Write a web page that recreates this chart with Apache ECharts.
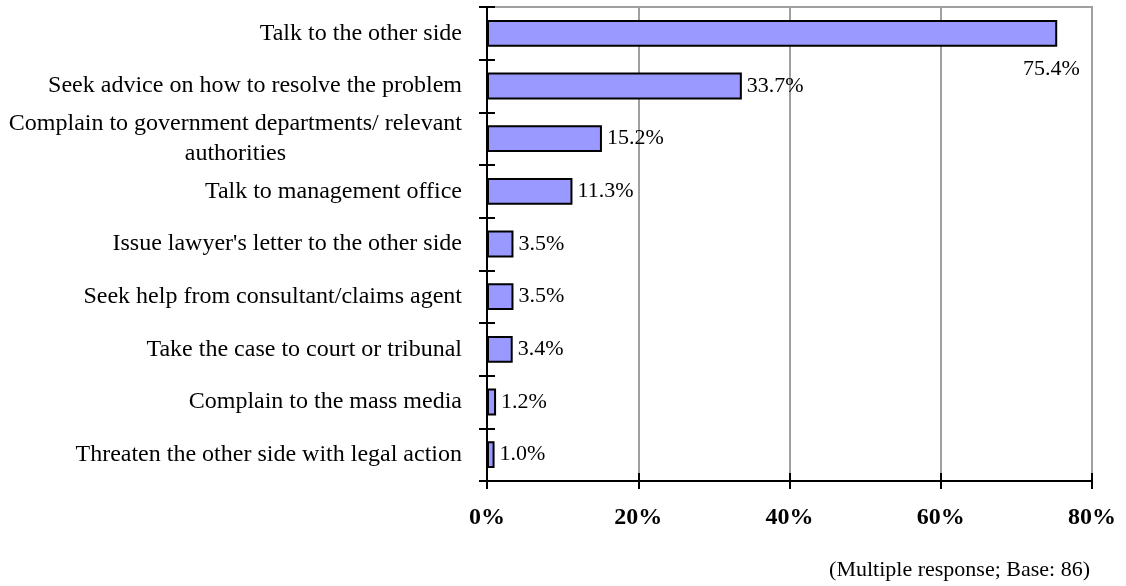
<!DOCTYPE html>
<html><head><meta charset="utf-8">
<script src="https://cdn.jsdelivr.net/npm/echarts@6/dist/echarts.min.js"></script>
<style>html,body{margin:0;padding:0;background:#fff}#c{width:1126px;height:586px}</style>
</head><body><div id="c"></div>
<script>
const categories = [
  "Talk to the other side",
  "Seek advice on how to resolve the problem",
  "Complain to government departments/ relevant\nauthorities",
  "Talk to management office",
  "Issue lawyer's letter to the other side",
  "Seek help from consultant/claims agent",
  "Take the case to court or tribunal",
  "Complain to the mass media",
  "Threaten the other side with legal action"
];
const values = [75.4, 33.7, 15.2, 11.3, 3.5, 3.5, 3.4, 1.2, 1.0];
const xTicks = [0, 20, 40, 60, 80];
const footnote = "(Multiple response; Base: 86)";

const FONT = "'Liberation Serif', 'Times New Roman', serif";
const chart = echarts.init(document.getElementById('c'));
const grid = {left: 487, right: 34, top: 7, bottom: 105, show: true, borderColor: '#a0a0a0', borderWidth: 2};
const labelFmt = function (v) {
  if (v.indexOf('\n') >= 0) {
    return v.split('\n').map(s => '{c|' + s + '}').join('\n');
  }
  return v;
};
const yBase = {
  type: 'category', data: categories, inverse: true, position: 'left',
  axisLine: {show: true, lineStyle: {color: '#000', width: 2}},
  axisTick: {show: true, length: 8, lineStyle: {color: '#000', width: 2}},
  splitLine: {show: false}
};
chart.setOption({
  animation: false,
  textStyle: {fontFamily: FONT},
  grid: grid,
  title: {text: footnote, right: 31, top: 554, textStyle: {fontFamily: FONT, fontSize: 22, fontWeight: 'normal', color: '#000'}},
  xAxis: [
    {type: 'value', min: 0, max: 80, interval: 20,
     axisLine: {show: true, lineStyle: {color: '#000', width: 2}},
     axisTick: {show: true, length: 8, lineStyle: {color: '#000', width: 2}},
     splitLine: {show: true, lineStyle: {color: '#a0a0a0', width: 2}},
     axisLabel: {margin: 25, fontFamily: FONT, fontSize: 24, fontWeight: 'bold', color: '#000',
       formatter: v => xTicks.indexOf(v) >= 0 ? v + '%' : ''}},
    {type: 'value', min: 0, max: 80, interval: 20, position: 'bottom',
     axisLine: {show: false},
     axisTick: {show: true, inside: true, length: 8, lineStyle: {color: '#000', width: 2}},
     splitLine: {show: false}, axisLabel: {show: false}}
  ],
  yAxis: [
    Object.assign({}, yBase, {
      axisLabel: {margin: 25, fontFamily: FONT, fontSize: 24, color: '#000', lineHeight: 30,
        formatter: labelFmt,
        rich: {c: {align: 'center', fontFamily: FONT, fontSize: 24, color: '#000', lineHeight: 30}}}
    }),
    Object.assign({}, yBase, {
      axisLine: {show: false},
      axisTick: {show: true, inside: true, length: 8, lineStyle: {color: '#000', width: 2}},
      axisLabel: {show: false}
    })
  ],
  series: [{
    type: 'bar', xAxisIndex: 0, yAxisIndex: 0,
    barWidth: '51%',
    itemStyle: {color: '#9999ff', borderColor: '#000', borderWidth: 2},
    label: {show: true, position: 'right', distance: 5, fontFamily: FONT, fontSize: 22, color: '#000',
      formatter: p => p.value.toFixed(1) + '%'},
    data: values.map((v, i) => i === 0 ? {value: v, label: {position: ['99%', '185%'], align: 'center', verticalAlign: 'middle'}} : v)
  }]
});
</script></body></html>
